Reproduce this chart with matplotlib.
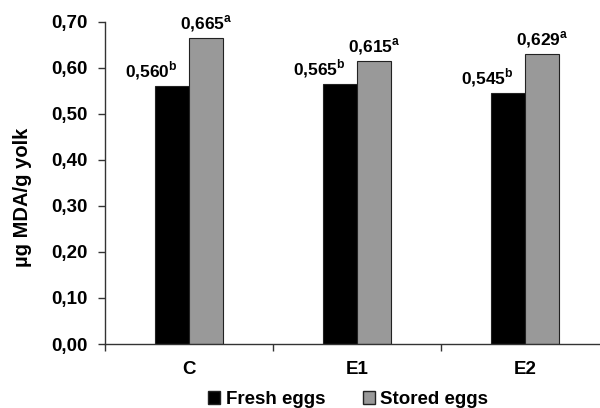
import numpy as np
import matplotlib.pyplot as plt
from matplotlib.patches import Patch

plt.rcParams['font.family'] = ['Liberation Sans', 'DejaVu Sans']
plt.rcParams['font.weight'] = 'bold'
plt.rcParams['mathtext.fontset'] = 'custom'
plt.rcParams['mathtext.bf'] = 'Liberation Sans:bold'
plt.rcParams['mathtext.rm'] = 'Liberation Sans:bold'

groups = ['C', 'E1', 'E2']
fresh = [0.560, 0.565, 0.545]
stored = [0.665, 0.615, 0.629]
fresh_sup = ['b', 'b', 'b']
stored_sup = ['a', 'a', 'a']
series_names = ['Fresh eggs', 'Stored eggs']
yticks = [0.0, 0.1, 0.2, 0.3, 0.4, 0.5, 0.6, 0.7]

fig = plt.figure(figsize=(6, 4.08), dpi=100)
ax = fig.add_axes([105 / 600, 64 / 408, 504 / 600, 322.3 / 408])

x = np.arange(len(groups))
w = 0.2
ax.bar(x - w / 2, fresh, w, color='black', edgecolor='#222222', linewidth=0.8)
ax.bar(x + w / 2, stored, w, color='#999999', edgecolor='#222222', linewidth=0.8)

# etiquetas de valores
for i in range(len(groups)):
    ax.annotate('{:.3f}'.format(fresh[i]).replace('.', ',') + '$^{\\mathbf{' + fresh_sup[i] + '}}$',
                (x[i] - w / 2, fresh[i]), xytext=(4, 3), textcoords='offset points',
                ha='right', va='bottom', fontsize=12.5, fontweight='bold')
    ax.annotate('{:.3f}'.format(stored[i]).replace('.', ',') + '$^{\\mathbf{' + stored_sup[i] + '}}$',
                (x[i] + w / 2, stored[i]), xytext=(0, 3), textcoords='offset points',
                ha='center', va='bottom', fontsize=12.5, fontweight='bold')

ax.set_xlim(-0.5, 2.5)
ax.set_ylim(0, 0.7)
ax.set_yticks(yticks)
ax.set_yticklabels(['{:.2f}'.format(v).replace('.', ',') for v in yticks],
                   fontsize=13.5, fontweight='bold')
ax.tick_params(axis='y', direction='out', length=5, width=1, color='#333333', pad=7.5)

ax.set_xticks([-0.5, 0.5, 1.5, 2.5])
ax.set_xticklabels([])
ax.tick_params(axis='x', which='major', direction='out', length=5, width=1, color='#333333')
ax.set_xticks(x, minor=True)
ax.set_xticklabels(groups, minor=True, fontsize=13.5, fontweight='bold')
ax.tick_params(axis='x', which='minor', length=0, pad=12)

for s in ['top', 'right']:
    ax.spines[s].set_visible(False)
for s in ['left', 'bottom']:
    ax.spines[s].set_color('#333333')
    ax.spines[s].set_linewidth(1)

fig.text(23 / 600, 0.517, 'µg MDA/g yolk', rotation=90, ha='center', va='center',
         fontsize=14.5, fontweight='bold')

handles = [Patch(facecolor='black', edgecolor='#222222'),
           Patch(facecolor='#999999', edgecolor='#222222')]
fig.legend(handles, series_names, loc='center', bbox_to_anchor=(348 / 600, 0.021),
           ncol=2, frameon=False, handlelength=0.65, handleheight=0.65,
           handletextpad=0.3, columnspacing=2.0, borderpad=0, borderaxespad=0,
           prop={'weight': 'bold', 'size': 13.5})

fig.savefig('out.png', dpi=100)
